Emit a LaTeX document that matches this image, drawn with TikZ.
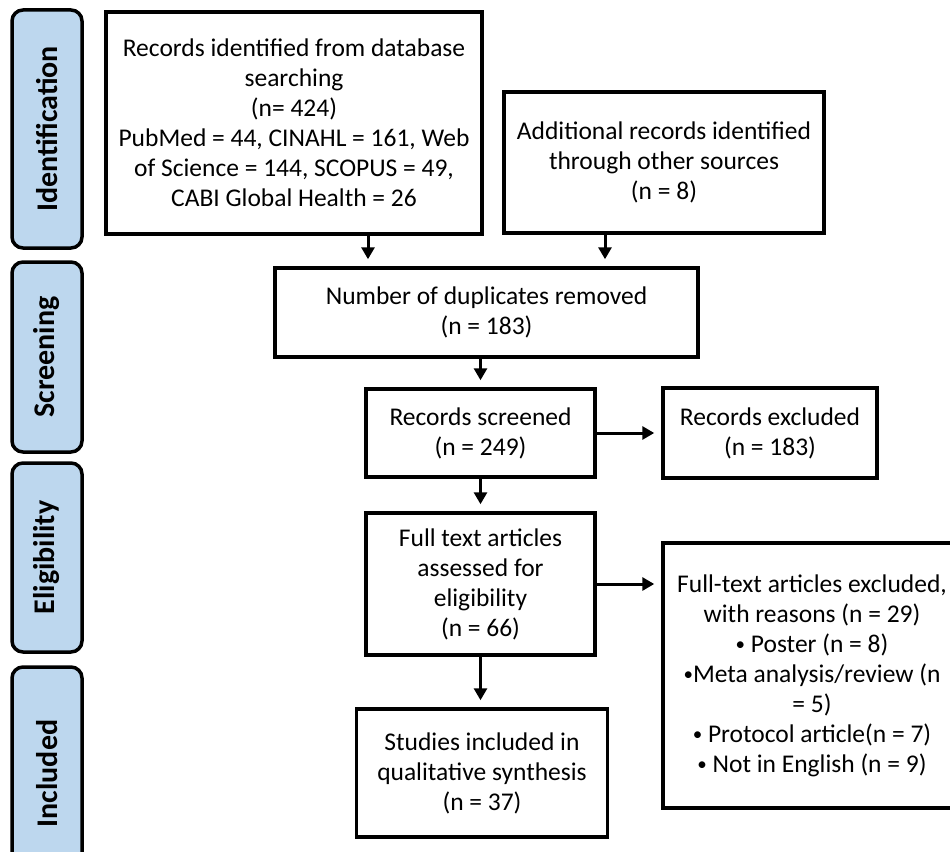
\documentclass[tikz,border=0pt]{standalone}
\usepackage{fontspec}
\setmainfont{Carlito}
\usetikzlibrary{arrows.meta}
\usetikzlibrary{calc}

\definecolor{stageblue}{RGB}{189,215,238}

\begin{document}
\begin{tikzpicture}[x=1pt,y=-1pt,
	box/.style={draw, line width=3.5pt, align=center, inner sep=0pt, font=\fontsize{25.5}{30}\selectfont},
	stage/.style={draw, line width=3.5pt, fill=stageblue, rounded corners=11pt, rotate=90, inner sep=0pt, minimum height=70pt, font=\fontsize{30}{36}\selectfont\bfseries},
	arr/.style={line width=3pt, -{Triangle[length=12pt,width=13pt]}, shorten >=7pt}]

	% define some sizes to draw consistently
	\def\off{118.5pt}
	% smaller bullet for the list of reasons
	\def\bul{{\fontsize{19}{30}\selectfont\raisebox{1.5pt}{\textbullet}}}

	% fix the page to the size of the reference
	\useasboundingbox (0,0) rectangle (950,851);

	% stages down the left side
	\node[stage, minimum width=238pt] (idstage) at (47,129) {Identification};
	\node[stage, minimum width=190pt] (scstage) at (47,357) {Screening};
	\node[stage, minimum width=189pt] (elstage) at (47,557.5) {Eligibility};
	\node[stage, minimum width=213pt] (instage) at (47,773.5) {Included};

	% identification
	\node[box, minimum width=376pt, minimum height=222pt] (db) at (294,123)
		{Records identified from database\\searching\\(n= 424)\\PubMed = 44, CINAHL = 161, Web\\of Science = 144, SCOPUS = 49,\\CABI Global Health = 26};
	\node[box, minimum width=320pt, minimum height=141pt] (other) at (664,162.5)
		{Additional records identified\\through other sources\\(n = 8)};

	% screening
	\node[box, minimum width=423pt, minimum height=89pt] (dup) at (486.5,312.5)
		{Number of duplicates removed\\(n = 183)};
	\node[box, minimum width=229pt, minimum height=88pt] (screened) at (480.5,433)
		{Records screened\\(n = 249)};
	\node[box, minimum width=214pt, minimum height=90pt] (excl) at (770,433)
		{Records excluded\\(n = 183)};

	% eligibility
	\node[box, minimum width=298pt, minimum height=265pt] (ftexcl) at (812,675.5)
		{Full-text articles excluded,\\with reasons (n = 29)\\\bul{} Poster (n = 8)\\\bul Meta analysis/review (n\\= 5)\\\bul{} Protocol article(n = 7)\\\bul{} Not in English (n = 9)};
	\node[box, minimum width=229pt, minimum height=142pt] (fulltext) at (480.5,584)
		{Full text articles\\assessed for\\eligibility\\(n = 66)};

	% included
	\node[box, minimum width=251pt, minimum height=128pt] (incl) at (482,773)
		{Studies included in\\qualitative synthesis\\(n = 37)};

	% arrows between the boxes
	\draw[arr] ([xshift=-\off]dup.north |- db.south) -- ([xshift=-\off]dup.north);
	\draw[arr] ([xshift=\off]dup.north |- other.south) -- ([xshift=\off]dup.north);
	\draw[arr] (screened.north |- dup.south) -- (screened.north);
	\draw[arr] (screened.east) -- (excl.west);
	\draw[arr] (screened.south) -- (fulltext.north);
	\draw[arr] (fulltext.east) -- (fulltext.east -| ftexcl.west);
	\draw[arr] (fulltext.south) -- (fulltext.south |- incl.north);

\end{tikzpicture}
\end{document}
